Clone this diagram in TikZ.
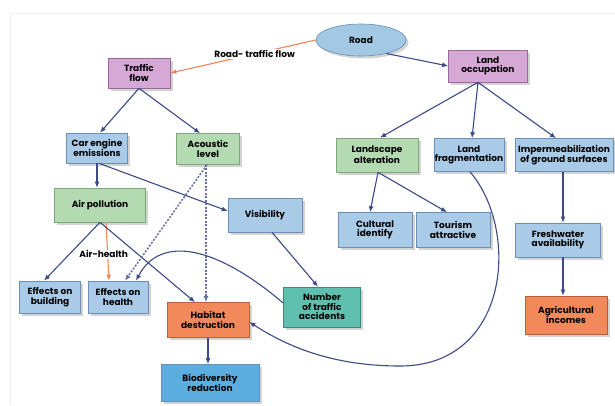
\documentclass[tikz,border=0pt]{standalone}
\usepackage{fontspec}
\setmainfont{Poppins}
\usetikzlibrary{shapes.geometric,shadows,arrows.meta,calc}
\definecolor{pinkf}{HTML}{D6A8D5}
\definecolor{pinkd}{HTML}{9A6A98}
\definecolor{bluef}{HTML}{A9CBE8}
\definecolor{blued}{HTML}{6A8FB5}
\definecolor{greenf}{HTML}{B4DAB2}
\definecolor{greend}{HTML}{7FA67C}
\definecolor{orangef}{HTML}{F2895A}
\definecolor{oranged}{HTML}{B85F3A}
\definecolor{tealf}{HTML}{5FC0AF}
\definecolor{teald}{HTML}{3A8A7C}
\definecolor{deepblue}{HTML}{5BAEDF}
\definecolor{navy}{HTML}{3C4A87}
\definecolor{arrorange}{HTML}{F0845A}
\definecolor{ellf}{HTML}{A2C8E4}
\tikzset{
  box/.style={draw, line width=0.6pt, align=center, inner sep=1pt,
    font=\fontsize{9}{9.6}\selectfont\bfseries,
    drop shadow={opacity=0.35, shadow xshift=2.5pt, shadow yshift=-2.5pt}},
  pinkbox/.style={box, fill=pinkf, draw=pinkd},
  bluebox/.style={box, fill=bluef, draw=blued},
  greenbox/.style={box, fill=greenf, draw=greend},
  orangebox/.style={box, fill=orangef, draw=oranged},
  tealbox/.style={box, fill=tealf, draw=teald},
  deepbox/.style={box, fill=deepblue, draw=blued},
  link/.style={draw=navy, line width=1.1pt, -{Latex[length=6pt,width=5pt]}},
  orlink/.style={draw=arrorange, line width=1.1pt, -{Latex[length=6pt,width=5pt]}},
  dlink/.style={draw=navy!80, line width=1.5pt, dash pattern=on 2pt off 1.5pt, -{Latex[open,length=6pt,width=5pt]}},
  lbl/.style={fill=white, inner sep=1pt, font=\fontsize{9}{9.6}\selectfont\bfseries}
}
\begin{document}
\begin{tikzpicture}[x=1pt,y=-1pt]
\useasboundingbox (0,0) rectangle (615,405);
\draw[gray!12, line width=0.6pt] (10,405) -- (10,13) -- (615,13);
% nodes
\node[ellipse, draw=blued, fill=ellf, line width=0.6pt, minimum width=90, minimum height=32,
  font=\fontsize{9}{9.6}\selectfont\bfseries,
  drop shadow={opacity=0.35, shadow xshift=2.5pt, shadow yshift=-2.5pt}] (road) at (361,40) {Road};
\node[pinkbox, minimum width=62, minimum height=30] (tf) at (139,73) {Traffic\\flow};
\node[pinkbox, minimum width=79, minimum height=32] (lo) at (488,66) {Land\\occupation};
\node[bluebox, minimum width=61, minimum height=30] (ce) at (97,148) {Car engine\\emissions};
\node[greenbox, minimum width=63, minimum height=31] (ac) at (208,149) {Acoustic\\level};
\node[greenbox, minimum width=91, minimum height=34] (ap) at (100,205) {Air pollution};
\node[bluebox, minimum width=74, minimum height=34] (vi) at (265,215) {Visibility};
\node[greenbox, minimum width=82, minimum height=34] (la) at (377,155) {Landscape\\alteration};
\node[bluebox, minimum width=70, minimum height=33] (lf) at (469,155) {Land\\fragmentation};
\node[bluebox, minimum width=98, minimum height=33] (im) at (564,155) {Impermeabilization\\of ground surfaces};
\node[bluebox, minimum width=74, minimum height=35] (cu) at (375,230) {Cultural\\identify};
\node[bluebox, minimum width=74, minimum height=35] (ta) at (453,230) {Tourism\\attractive};
\node[bluebox, minimum width=85, minimum height=34] (fw) at (558,240) {Freshwater\\availability};
\node[orangebox, minimum width=82, minimum height=38] (ai) at (566,315) {Agricultural\\incomes};
\node[bluebox, minimum width=61, minimum height=32] (eb) at (50,297) {Effects on\\building};
\node[bluebox, minimum width=60, minimum height=32] (eh) at (118,297) {Effects on\\health};
\node[orangebox, minimum width=82, minimum height=35] (hd) at (208,320) {Habitat\\destruction};
\node[tealbox, minimum width=77, minimum height=40] (nt) at (322,307) {Number\\of traffic\\accidents};
\node[deepbox, minimum width=98, minimum height=37] (bd) at (210,383) {Biodiversity\\reduction};
% connectors
\draw[orlink] (road.west) -- node[lbl, pos=0.42] {Road- traffic flow} (tf.east);
\draw[link] (road.-28) -- (lo.west);
\draw[link] (tf.south) -- ([xshift=3pt]ce.north);
\draw[link] (tf.south) -- ([xshift=-8pt]ac.north);
\draw[link] ([xshift=-10pt]lo.south) -- ([xshift=3pt]la.north);
\draw[link] ([xshift=-10pt]lo.south) -- ([xshift=3pt]lf.north);
\draw[link] ([xshift=-10pt]lo.south) -- ([xshift=-8pt]im.north);
\draw[link] (ce.south) -- ([xshift=-3pt]ap.north);
\draw[link] ([xshift=2pt]ce.south) -- ([yshift=4pt]vi.west);
\draw[link] (ap.south) -- ([xshift=-6pt]eb.north);
\draw[orlink] ([xshift=6pt]ap.south) -- node[lbl, pos=0.55, xshift=-4pt] {Air-health} ([xshift=-9pt]eh.north);
\draw[link] (ap.south) -- ([xshift=-13pt]hd.north);
\draw[dlink] ([xshift=-1pt]ac.south) -- ([xshift=7pt]eh.north);
\draw[dlink] ([xshift=-2pt]ac.south) -- ([xshift=-2pt]hd.north);
\draw[link] ([xshift=7pt]vi.south) -- ([xshift=-4pt]nt.north);
\draw[link] ([yshift=4pt]nt.west) .. controls (215,245) and (160,235) .. ([xshift=18pt]eh.north);
\draw[link] ([xshift=1pt]lf.south) .. controls (520,230) and (510,366) .. (400,366)
   .. controls (330,366) and (285,345) .. ([yshift=-2pt]hd.east);
\draw[link] ([xshift=1pt]la.south) -- ([xshift=-5pt]cu.north);
\draw[link] ([xshift=1pt]la.south) -- ([xshift=-6pt]ta.north);
\draw[link] ([xshift=-1pt]im.south) -- ([xshift=5pt]fw.north);
\draw[link] ([xshift=5pt]fw.south) -- ([xshift=-3pt]ai.north);
\draw[link] (hd.south) -- ([xshift=-2pt]bd.north);
\end{tikzpicture}
\end{document}
